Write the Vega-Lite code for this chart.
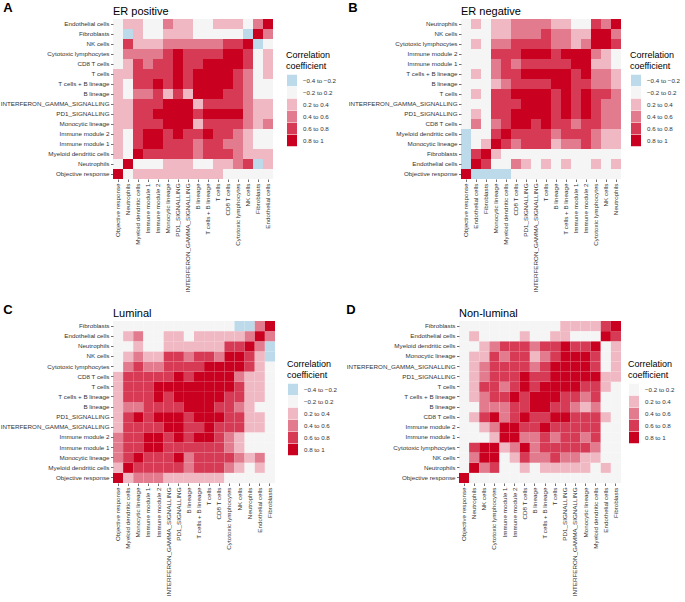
{
"$schema":"https://vega.github.io/schema/vega-lite/v6.json",
"background":"white",
"padding":{"left":0,"top":2,"right":0,"bottom":0},
"config":{
 "font":"Liberation Sans",
 "view":{"stroke":null},
 "axis":{"domain":false,"grid":false,"tickSize":2.5,"tickColor":"#333333","tickWidth":0.7,"labelFontSize":6.25,"labelColor":"#333333","labelPadding":1.5},
 "legend":{"symbolType":"M-0.87,-1H0.87V1H-0.87Z","symbolSize":132,"symbolStrokeWidth":0,"rowPadding":0,"labelFontSize":6.2,"labelColor":"#333333","labelOffset":5,"titleFontSize":9,"titleFontWeight":"normal","titleColor":"#000000","titleLineHeight":10.5,"titlePadding":4},
 "title":{"color":"#000000"}
},
"datasets":{
"names":[{"code":"OR","name":"Objective response"},{"code":"Neu","name":"Neutrophils"},{"code":"MDC","name":"Myeloid dendritic cells"},{"code":"IM1","name":"Immune module 1"},{"code":"IM2","name":"Immune module 2"},{"code":"Mono","name":"Monocytic lineage"},{"code":"PD1","name":"PD1_SIGNALLING"},{"code":"IFN","name":"INTERFERON_GAMMA_SIGNALLING"},{"code":"B","name":"B lineage"},{"code":"TB","name":"T cells + B lineage"},{"code":"T","name":"T cells"},{"code":"CD8","name":"CD8 T cells"},{"code":"CTL","name":"Cytotoxic lymphocytes"},{"code":"NK","name":"NK cells"},{"code":"Fib","name":"Fibroblasts"},{"code":"End","name":"Endothelial cells"}],
"A":[
{"x":"OR","y":"OR","r":0.9},{"x":"Neu","y":"OR","r":0},{"x":"MDC","y":"OR","r":0.3},{"x":"IM1","y":"OR","r":0.3},{"x":"IM2","y":"OR","r":0.3},{"x":"Mono","y":"OR","r":0.3},{"x":"PD1","y":"OR","r":0.3},{"x":"IFN","y":"OR","r":0.3},{"x":"B","y":"OR","r":0.3},{"x":"TB","y":"OR","r":0.3},{"x":"T","y":"OR","r":0.3},{"x":"CD8","y":"OR","r":0},{"x":"CTL","y":"OR","r":0},{"x":"NK","y":"OR","r":0},{"x":"Fib","y":"OR","r":0},{"x":"End","y":"OR","r":0},
{"x":"OR","y":"Neu","r":0},{"x":"Neu","y":"Neu","r":0.9},{"x":"MDC","y":"Neu","r":0},{"x":"IM1","y":"Neu","r":0},{"x":"IM2","y":"Neu","r":0},{"x":"Mono","y":"Neu","r":0.3},{"x":"PD1","y":"Neu","r":0.3},{"x":"IFN","y":"Neu","r":0.3},{"x":"B","y":"Neu","r":0},{"x":"TB","y":"Neu","r":0},{"x":"T","y":"Neu","r":0.3},{"x":"CD8","y":"Neu","r":0.3},{"x":"CTL","y":"Neu","r":0.5},{"x":"NK","y":"Neu","r":0.7},{"x":"Fib","y":"Neu","r":-0.3},{"x":"End","y":"Neu","r":0.3},
{"x":"OR","y":"MDC","r":0.3},{"x":"Neu","y":"MDC","r":0},{"x":"MDC","y":"MDC","r":0.9},{"x":"IM1","y":"MDC","r":0.7},{"x":"IM2","y":"MDC","r":0.7},{"x":"Mono","y":"MDC","r":0.7},{"x":"PD1","y":"MDC","r":0.7},{"x":"IFN","y":"MDC","r":0.7},{"x":"B","y":"MDC","r":0.5},{"x":"TB","y":"MDC","r":0.7},{"x":"T","y":"MDC","r":0.7},{"x":"CD8","y":"MDC","r":0.7},{"x":"CTL","y":"MDC","r":0.5},{"x":"NK","y":"MDC","r":0.3},{"x":"Fib","y":"MDC","r":0.3},{"x":"End","y":"MDC","r":0.3},
{"x":"OR","y":"IM1","r":0.3},{"x":"Neu","y":"IM1","r":0},{"x":"MDC","y":"IM1","r":0.7},{"x":"IM1","y":"IM1","r":0.9},{"x":"IM2","y":"IM1","r":0.9},{"x":"Mono","y":"IM1","r":0.7},{"x":"PD1","y":"IM1","r":0.7},{"x":"IFN","y":"IM1","r":0.7},{"x":"B","y":"IM1","r":0.5},{"x":"TB","y":"IM1","r":0.7},{"x":"T","y":"IM1","r":0.7},{"x":"CD8","y":"IM1","r":0.5},{"x":"CTL","y":"IM1","r":0.5},{"x":"NK","y":"IM1","r":0.3},{"x":"Fib","y":"IM1","r":0},{"x":"End","y":"IM1","r":0},
{"x":"OR","y":"IM2","r":0.3},{"x":"Neu","y":"IM2","r":0},{"x":"MDC","y":"IM2","r":0.7},{"x":"IM1","y":"IM2","r":0.9},{"x":"IM2","y":"IM2","r":0.9},{"x":"Mono","y":"IM2","r":0.7},{"x":"PD1","y":"IM2","r":0.9},{"x":"IFN","y":"IM2","r":0.7},{"x":"B","y":"IM2","r":0.7},{"x":"TB","y":"IM2","r":0.9},{"x":"T","y":"IM2","r":0.7},{"x":"CD8","y":"IM2","r":0.7},{"x":"CTL","y":"IM2","r":0.5},{"x":"NK","y":"IM2","r":0.3},{"x":"Fib","y":"IM2","r":0},{"x":"End","y":"IM2","r":0},
{"x":"OR","y":"Mono","r":0.3},{"x":"Neu","y":"Mono","r":0.3},{"x":"MDC","y":"Mono","r":0.7},{"x":"IM1","y":"Mono","r":0.7},{"x":"IM2","y":"Mono","r":0.7},{"x":"Mono","y":"Mono","r":0.9},{"x":"PD1","y":"Mono","r":0.9},{"x":"IFN","y":"Mono","r":0.9},{"x":"B","y":"Mono","r":0.3},{"x":"TB","y":"Mono","r":0.7},{"x":"T","y":"Mono","r":0.7},{"x":"CD8","y":"Mono","r":0.7},{"x":"CTL","y":"Mono","r":0.7},{"x":"NK","y":"Mono","r":0.5},{"x":"Fib","y":"Mono","r":0.3},{"x":"End","y":"Mono","r":0.5},
{"x":"OR","y":"PD1","r":0.3},{"x":"Neu","y":"PD1","r":0.3},{"x":"MDC","y":"PD1","r":0.7},{"x":"IM1","y":"PD1","r":0.7},{"x":"IM2","y":"PD1","r":0.9},{"x":"Mono","y":"PD1","r":0.9},{"x":"PD1","y":"PD1","r":0.9},{"x":"IFN","y":"PD1","r":0.9},{"x":"B","y":"PD1","r":0.7},{"x":"TB","y":"PD1","r":0.9},{"x":"T","y":"PD1","r":0.9},{"x":"CD8","y":"PD1","r":0.9},{"x":"CTL","y":"PD1","r":0.9},{"x":"NK","y":"PD1","r":0.5},{"x":"Fib","y":"PD1","r":0.3},{"x":"End","y":"PD1","r":0.3},
{"x":"OR","y":"IFN","r":0.3},{"x":"Neu","y":"IFN","r":0.3},{"x":"MDC","y":"IFN","r":0.7},{"x":"IM1","y":"IFN","r":0.7},{"x":"IM2","y":"IFN","r":0.7},{"x":"Mono","y":"IFN","r":0.9},{"x":"PD1","y":"IFN","r":0.9},{"x":"IFN","y":"IFN","r":0.9},{"x":"B","y":"IFN","r":0.3},{"x":"TB","y":"IFN","r":0.7},{"x":"T","y":"IFN","r":0.7},{"x":"CD8","y":"IFN","r":0.7},{"x":"CTL","y":"IFN","r":0.7},{"x":"NK","y":"IFN","r":0.5},{"x":"Fib","y":"IFN","r":0.3},{"x":"End","y":"IFN","r":0.3},
{"x":"OR","y":"B","r":0.3},{"x":"Neu","y":"B","r":0},{"x":"MDC","y":"B","r":0.5},{"x":"IM1","y":"B","r":0.5},{"x":"IM2","y":"B","r":0.7},{"x":"Mono","y":"B","r":0.3},{"x":"PD1","y":"B","r":0.7},{"x":"IFN","y":"B","r":0.3},{"x":"B","y":"B","r":0.9},{"x":"TB","y":"B","r":0.9},{"x":"T","y":"B","r":0.9},{"x":"CD8","y":"B","r":0.7},{"x":"CTL","y":"B","r":0.7},{"x":"NK","y":"B","r":0.5},{"x":"Fib","y":"B","r":0},{"x":"End","y":"B","r":0},
{"x":"OR","y":"TB","r":0.3},{"x":"Neu","y":"TB","r":0},{"x":"MDC","y":"TB","r":0.7},{"x":"IM1","y":"TB","r":0.7},{"x":"IM2","y":"TB","r":0.9},{"x":"Mono","y":"TB","r":0.7},{"x":"PD1","y":"TB","r":0.9},{"x":"IFN","y":"TB","r":0.7},{"x":"B","y":"TB","r":0.9},{"x":"TB","y":"TB","r":0.9},{"x":"T","y":"TB","r":0.9},{"x":"CD8","y":"TB","r":0.9},{"x":"CTL","y":"TB","r":0.7},{"x":"NK","y":"TB","r":0.5},{"x":"Fib","y":"TB","r":0},{"x":"End","y":"TB","r":0},
{"x":"OR","y":"T","r":0.3},{"x":"Neu","y":"T","r":0.3},{"x":"MDC","y":"T","r":0.7},{"x":"IM1","y":"T","r":0.7},{"x":"IM2","y":"T","r":0.7},{"x":"Mono","y":"T","r":0.7},{"x":"PD1","y":"T","r":0.9},{"x":"IFN","y":"T","r":0.7},{"x":"B","y":"T","r":0.9},{"x":"TB","y":"T","r":0.9},{"x":"T","y":"T","r":0.9},{"x":"CD8","y":"T","r":0.9},{"x":"CTL","y":"T","r":0.7},{"x":"NK","y":"T","r":0.5},{"x":"Fib","y":"T","r":0},{"x":"End","y":"T","r":0.3},
{"x":"OR","y":"CD8","r":0},{"x":"Neu","y":"CD8","r":0.3},{"x":"MDC","y":"CD8","r":0.7},{"x":"IM1","y":"CD8","r":0.5},{"x":"IM2","y":"CD8","r":0.7},{"x":"Mono","y":"CD8","r":0.7},{"x":"PD1","y":"CD8","r":0.9},{"x":"IFN","y":"CD8","r":0.7},{"x":"B","y":"CD8","r":0.7},{"x":"TB","y":"CD8","r":0.9},{"x":"T","y":"CD8","r":0.9},{"x":"CD8","y":"CD8","r":0.9},{"x":"CTL","y":"CD8","r":0.9},{"x":"NK","y":"CD8","r":0.7},{"x":"Fib","y":"CD8","r":0},{"x":"End","y":"CD8","r":0.3},
{"x":"OR","y":"CTL","r":0},{"x":"Neu","y":"CTL","r":0.5},{"x":"MDC","y":"CTL","r":0.5},{"x":"IM1","y":"CTL","r":0.5},{"x":"IM2","y":"CTL","r":0.5},{"x":"Mono","y":"CTL","r":0.7},{"x":"PD1","y":"CTL","r":0.9},{"x":"IFN","y":"CTL","r":0.7},{"x":"B","y":"CTL","r":0.7},{"x":"TB","y":"CTL","r":0.7},{"x":"T","y":"CTL","r":0.7},{"x":"CD8","y":"CTL","r":0.9},{"x":"CTL","y":"CTL","r":0.9},{"x":"NK","y":"CTL","r":0.7},{"x":"Fib","y":"CTL","r":0},{"x":"End","y":"CTL","r":0.3},
{"x":"OR","y":"NK","r":0},{"x":"Neu","y":"NK","r":0.7},{"x":"MDC","y":"NK","r":0.3},{"x":"IM1","y":"NK","r":0.3},{"x":"IM2","y":"NK","r":0.3},{"x":"Mono","y":"NK","r":0.5},{"x":"PD1","y":"NK","r":0.5},{"x":"IFN","y":"NK","r":0.5},{"x":"B","y":"NK","r":0.5},{"x":"TB","y":"NK","r":0.5},{"x":"T","y":"NK","r":0.5},{"x":"CD8","y":"NK","r":0.7},{"x":"CTL","y":"NK","r":0.7},{"x":"NK","y":"NK","r":0.9},{"x":"Fib","y":"NK","r":-0.3},{"x":"End","y":"NK","r":0},
{"x":"OR","y":"Fib","r":0},{"x":"Neu","y":"Fib","r":-0.3},{"x":"MDC","y":"Fib","r":0.3},{"x":"IM1","y":"Fib","r":0},{"x":"IM2","y":"Fib","r":0},{"x":"Mono","y":"Fib","r":0.3},{"x":"PD1","y":"Fib","r":0.3},{"x":"IFN","y":"Fib","r":0.3},{"x":"B","y":"Fib","r":0},{"x":"TB","y":"Fib","r":0},{"x":"T","y":"Fib","r":0},{"x":"CD8","y":"Fib","r":0},{"x":"CTL","y":"Fib","r":0},{"x":"NK","y":"Fib","r":-0.3},{"x":"Fib","y":"Fib","r":0.9},{"x":"End","y":"Fib","r":0.5},
{"x":"OR","y":"End","r":0},{"x":"Neu","y":"End","r":0.3},{"x":"MDC","y":"End","r":0.3},{"x":"IM1","y":"End","r":0},{"x":"IM2","y":"End","r":0},{"x":"Mono","y":"End","r":0.5},{"x":"PD1","y":"End","r":0.3},{"x":"IFN","y":"End","r":0.3},{"x":"B","y":"End","r":0},{"x":"TB","y":"End","r":0},{"x":"T","y":"End","r":0.3},{"x":"CD8","y":"End","r":0.3},{"x":"CTL","y":"End","r":0.3},{"x":"NK","y":"End","r":0},{"x":"Fib","y":"End","r":0.5},{"x":"End","y":"End","r":0.9}
],
"B":[
{"x":"OR","y":"OR","r":0.9},{"x":"End","y":"OR","r":-0.3},{"x":"Fib","y":"OR","r":-0.3},{"x":"Mono","y":"OR","r":-0.3},{"x":"MDC","y":"OR","r":-0.3},{"x":"CD8","y":"OR","r":0},{"x":"PD1","y":"OR","r":0},{"x":"IFN","y":"OR","r":0},{"x":"T","y":"OR","r":0},{"x":"B","y":"OR","r":0},{"x":"TB","y":"OR","r":0},{"x":"IM1","y":"OR","r":0},{"x":"IM2","y":"OR","r":0},{"x":"CTL","y":"OR","r":0},{"x":"NK","y":"OR","r":0},{"x":"Neu","y":"OR","r":0},
{"x":"OR","y":"End","r":-0.3},{"x":"End","y":"End","r":0.9},{"x":"Fib","y":"End","r":0.7},{"x":"Mono","y":"End","r":0},{"x":"MDC","y":"End","r":0},{"x":"CD8","y":"End","r":0.5},{"x":"PD1","y":"End","r":0.3},{"x":"IFN","y":"End","r":0},{"x":"T","y":"End","r":0.3},{"x":"B","y":"End","r":0},{"x":"TB","y":"End","r":0.3},{"x":"IM1","y":"End","r":0},{"x":"IM2","y":"End","r":0},{"x":"CTL","y":"End","r":0.3},{"x":"NK","y":"End","r":0},{"x":"Neu","y":"End","r":0.3},
{"x":"OR","y":"Fib","r":-0.3},{"x":"End","y":"Fib","r":0.7},{"x":"Fib","y":"Fib","r":0.9},{"x":"Mono","y":"Fib","r":0.3},{"x":"MDC","y":"Fib","r":0},{"x":"CD8","y":"Fib","r":0},{"x":"PD1","y":"Fib","r":0},{"x":"IFN","y":"Fib","r":0},{"x":"T","y":"Fib","r":0},{"x":"B","y":"Fib","r":0},{"x":"TB","y":"Fib","r":0},{"x":"IM1","y":"Fib","r":0},{"x":"IM2","y":"Fib","r":0},{"x":"CTL","y":"Fib","r":0},{"x":"NK","y":"Fib","r":0},{"x":"Neu","y":"Fib","r":0},
{"x":"OR","y":"Mono","r":-0.3},{"x":"End","y":"Mono","r":0},{"x":"Fib","y":"Mono","r":0.3},{"x":"Mono","y":"Mono","r":0.9},{"x":"MDC","y":"Mono","r":0.7},{"x":"CD8","y":"Mono","r":0.5},{"x":"PD1","y":"Mono","r":0.7},{"x":"IFN","y":"Mono","r":0.7},{"x":"T","y":"Mono","r":0.7},{"x":"B","y":"Mono","r":0.3},{"x":"TB","y":"Mono","r":0.5},{"x":"IM1","y":"Mono","r":0.5},{"x":"IM2","y":"Mono","r":0.7},{"x":"CTL","y":"Mono","r":0.5},{"x":"NK","y":"Mono","r":0.3},{"x":"Neu","y":"Mono","r":0.3},
{"x":"OR","y":"MDC","r":-0.3},{"x":"End","y":"MDC","r":0},{"x":"Fib","y":"MDC","r":0},{"x":"Mono","y":"MDC","r":0.7},{"x":"MDC","y":"MDC","r":0.9},{"x":"CD8","y":"MDC","r":0.7},{"x":"PD1","y":"MDC","r":0.7},{"x":"IFN","y":"MDC","r":0.7},{"x":"T","y":"MDC","r":0.7},{"x":"B","y":"MDC","r":0.5},{"x":"TB","y":"MDC","r":0.7},{"x":"IM1","y":"MDC","r":0.7},{"x":"IM2","y":"MDC","r":0.7},{"x":"CTL","y":"MDC","r":0.5},{"x":"NK","y":"MDC","r":0.3},{"x":"Neu","y":"MDC","r":0.3},
{"x":"OR","y":"CD8","r":0},{"x":"End","y":"CD8","r":0.5},{"x":"Fib","y":"CD8","r":0},{"x":"Mono","y":"CD8","r":0.5},{"x":"MDC","y":"CD8","r":0.7},{"x":"CD8","y":"CD8","r":0.9},{"x":"PD1","y":"CD8","r":0.9},{"x":"IFN","y":"CD8","r":0.7},{"x":"T","y":"CD8","r":0.9},{"x":"B","y":"CD8","r":0.7},{"x":"TB","y":"CD8","r":0.7},{"x":"IM1","y":"CD8","r":0.5},{"x":"IM2","y":"CD8","r":0.7},{"x":"CTL","y":"CD8","r":0.7},{"x":"NK","y":"CD8","r":0.5},{"x":"Neu","y":"CD8","r":0.5},
{"x":"OR","y":"PD1","r":0},{"x":"End","y":"PD1","r":0.3},{"x":"Fib","y":"PD1","r":0},{"x":"Mono","y":"PD1","r":0.7},{"x":"MDC","y":"PD1","r":0.7},{"x":"CD8","y":"PD1","r":0.9},{"x":"PD1","y":"PD1","r":0.9},{"x":"IFN","y":"PD1","r":0.9},{"x":"T","y":"PD1","r":0.9},{"x":"B","y":"PD1","r":0.7},{"x":"TB","y":"PD1","r":0.9},{"x":"IM1","y":"PD1","r":0.7},{"x":"IM2","y":"PD1","r":0.9},{"x":"CTL","y":"PD1","r":0.7},{"x":"NK","y":"PD1","r":0.5},{"x":"Neu","y":"PD1","r":0.5},
{"x":"OR","y":"IFN","r":0},{"x":"End","y":"IFN","r":0},{"x":"Fib","y":"IFN","r":0},{"x":"Mono","y":"IFN","r":0.7},{"x":"MDC","y":"IFN","r":0.7},{"x":"CD8","y":"IFN","r":0.7},{"x":"PD1","y":"IFN","r":0.9},{"x":"IFN","y":"IFN","r":0.9},{"x":"T","y":"IFN","r":0.9},{"x":"B","y":"IFN","r":0.7},{"x":"TB","y":"IFN","r":0.9},{"x":"IM1","y":"IFN","r":0.7},{"x":"IM2","y":"IFN","r":0.9},{"x":"CTL","y":"IFN","r":0.7},{"x":"NK","y":"IFN","r":0.5},{"x":"Neu","y":"IFN","r":0.5},
{"x":"OR","y":"T","r":0},{"x":"End","y":"T","r":0.3},{"x":"Fib","y":"T","r":0},{"x":"Mono","y":"T","r":0.7},{"x":"MDC","y":"T","r":0.7},{"x":"CD8","y":"T","r":0.9},{"x":"PD1","y":"T","r":0.9},{"x":"IFN","y":"T","r":0.9},{"x":"T","y":"T","r":0.9},{"x":"B","y":"T","r":0.7},{"x":"TB","y":"T","r":0.9},{"x":"IM1","y":"T","r":0.7},{"x":"IM2","y":"T","r":0.9},{"x":"CTL","y":"T","r":0.7},{"x":"NK","y":"T","r":0.7},{"x":"Neu","y":"T","r":0.5},
{"x":"OR","y":"B","r":0},{"x":"End","y":"B","r":0},{"x":"Fib","y":"B","r":0},{"x":"Mono","y":"B","r":0.3},{"x":"MDC","y":"B","r":0.5},{"x":"CD8","y":"B","r":0.7},{"x":"PD1","y":"B","r":0.7},{"x":"IFN","y":"B","r":0.7},{"x":"T","y":"B","r":0.7},{"x":"B","y":"B","r":0.9},{"x":"TB","y":"B","r":0.9},{"x":"IM1","y":"B","r":0.7},{"x":"IM2","y":"B","r":0.7},{"x":"CTL","y":"B","r":0.5},{"x":"NK","y":"B","r":0.5},{"x":"Neu","y":"B","r":0.3},
{"x":"OR","y":"TB","r":0},{"x":"End","y":"TB","r":0.3},{"x":"Fib","y":"TB","r":0},{"x":"Mono","y":"TB","r":0.5},{"x":"MDC","y":"TB","r":0.7},{"x":"CD8","y":"TB","r":0.7},{"x":"PD1","y":"TB","r":0.9},{"x":"IFN","y":"TB","r":0.9},{"x":"T","y":"TB","r":0.9},{"x":"B","y":"TB","r":0.9},{"x":"TB","y":"TB","r":0.9},{"x":"IM1","y":"TB","r":0.7},{"x":"IM2","y":"TB","r":0.9},{"x":"CTL","y":"TB","r":0.5},{"x":"NK","y":"TB","r":0.5},{"x":"Neu","y":"TB","r":0.3},
{"x":"OR","y":"IM1","r":0},{"x":"End","y":"IM1","r":0},{"x":"Fib","y":"IM1","r":0},{"x":"Mono","y":"IM1","r":0.5},{"x":"MDC","y":"IM1","r":0.7},{"x":"CD8","y":"IM1","r":0.5},{"x":"PD1","y":"IM1","r":0.7},{"x":"IFN","y":"IM1","r":0.7},{"x":"T","y":"IM1","r":0.7},{"x":"B","y":"IM1","r":0.7},{"x":"TB","y":"IM1","r":0.7},{"x":"IM1","y":"IM1","r":0.9},{"x":"IM2","y":"IM1","r":0.9},{"x":"CTL","y":"IM1","r":0.3},{"x":"NK","y":"IM1","r":0.3},{"x":"Neu","y":"IM1","r":0},
{"x":"OR","y":"IM2","r":0},{"x":"End","y":"IM2","r":0},{"x":"Fib","y":"IM2","r":0},{"x":"Mono","y":"IM2","r":0.7},{"x":"MDC","y":"IM2","r":0.7},{"x":"CD8","y":"IM2","r":0.7},{"x":"PD1","y":"IM2","r":0.9},{"x":"IFN","y":"IM2","r":0.9},{"x":"T","y":"IM2","r":0.9},{"x":"B","y":"IM2","r":0.7},{"x":"TB","y":"IM2","r":0.9},{"x":"IM1","y":"IM2","r":0.9},{"x":"IM2","y":"IM2","r":0.9},{"x":"CTL","y":"IM2","r":0.5},{"x":"NK","y":"IM2","r":0.3},{"x":"Neu","y":"IM2","r":0},
{"x":"OR","y":"CTL","r":0},{"x":"End","y":"CTL","r":0.3},{"x":"Fib","y":"CTL","r":0},{"x":"Mono","y":"CTL","r":0.5},{"x":"MDC","y":"CTL","r":0.5},{"x":"CD8","y":"CTL","r":0.7},{"x":"PD1","y":"CTL","r":0.7},{"x":"IFN","y":"CTL","r":0.7},{"x":"T","y":"CTL","r":0.7},{"x":"B","y":"CTL","r":0.5},{"x":"TB","y":"CTL","r":0.5},{"x":"IM1","y":"CTL","r":0.3},{"x":"IM2","y":"CTL","r":0.5},{"x":"CTL","y":"CTL","r":0.9},{"x":"NK","y":"CTL","r":0.9},{"x":"Neu","y":"CTL","r":0.7},
{"x":"OR","y":"NK","r":0},{"x":"End","y":"NK","r":0},{"x":"Fib","y":"NK","r":0},{"x":"Mono","y":"NK","r":0.3},{"x":"MDC","y":"NK","r":0.3},{"x":"CD8","y":"NK","r":0.5},{"x":"PD1","y":"NK","r":0.5},{"x":"IFN","y":"NK","r":0.5},{"x":"T","y":"NK","r":0.7},{"x":"B","y":"NK","r":0.5},{"x":"TB","y":"NK","r":0.5},{"x":"IM1","y":"NK","r":0.3},{"x":"IM2","y":"NK","r":0.3},{"x":"CTL","y":"NK","r":0.9},{"x":"NK","y":"NK","r":0.9},{"x":"Neu","y":"NK","r":0.5},
{"x":"OR","y":"Neu","r":0},{"x":"End","y":"Neu","r":0.3},{"x":"Fib","y":"Neu","r":0},{"x":"Mono","y":"Neu","r":0.3},{"x":"MDC","y":"Neu","r":0.3},{"x":"CD8","y":"Neu","r":0.5},{"x":"PD1","y":"Neu","r":0.5},{"x":"IFN","y":"Neu","r":0.5},{"x":"T","y":"Neu","r":0.5},{"x":"B","y":"Neu","r":0.3},{"x":"TB","y":"Neu","r":0.3},{"x":"IM1","y":"Neu","r":0},{"x":"IM2","y":"Neu","r":0},{"x":"CTL","y":"Neu","r":0.7},{"x":"NK","y":"Neu","r":0.5},{"x":"Neu","y":"Neu","r":0.9}
],
"C":[
{"x":"OR","y":"OR","r":0.9},{"x":"MDC","y":"OR","r":0.3},{"x":"Mono","y":"OR","r":0.5},{"x":"IM1","y":"OR","r":0.5},{"x":"IM2","y":"OR","r":0.5},{"x":"IFN","y":"OR","r":0.3},{"x":"PD1","y":"OR","r":0.3},{"x":"B","y":"OR","r":0.3},{"x":"TB","y":"OR","r":0.3},{"x":"T","y":"OR","r":0.3},{"x":"CD8","y":"OR","r":0.3},{"x":"CTL","y":"OR","r":0},{"x":"NK","y":"OR","r":0},{"x":"Neu","y":"OR","r":0},{"x":"End","y":"OR","r":0},{"x":"Fib","y":"OR","r":0},
{"x":"OR","y":"MDC","r":0.3},{"x":"MDC","y":"MDC","r":0.9},{"x":"Mono","y":"MDC","r":0.7},{"x":"IM1","y":"MDC","r":0.7},{"x":"IM2","y":"MDC","r":0.7},{"x":"IFN","y":"MDC","r":0.7},{"x":"PD1","y":"MDC","r":0.7},{"x":"B","y":"MDC","r":0.5},{"x":"TB","y":"MDC","r":0.7},{"x":"T","y":"MDC","r":0.7},{"x":"CD8","y":"MDC","r":0.7},{"x":"CTL","y":"MDC","r":0.5},{"x":"NK","y":"MDC","r":0.3},{"x":"Neu","y":"MDC","r":0},{"x":"End","y":"MDC","r":0.3},{"x":"Fib","y":"MDC","r":0},
{"x":"OR","y":"Mono","r":0.5},{"x":"MDC","y":"Mono","r":0.7},{"x":"Mono","y":"Mono","r":0.9},{"x":"IM1","y":"Mono","r":0.7},{"x":"IM2","y":"Mono","r":0.7},{"x":"IFN","y":"Mono","r":0.7},{"x":"PD1","y":"Mono","r":0.9},{"x":"B","y":"Mono","r":0.5},{"x":"TB","y":"Mono","r":0.7},{"x":"T","y":"Mono","r":0.7},{"x":"CD8","y":"Mono","r":0.7},{"x":"CTL","y":"Mono","r":0.7},{"x":"NK","y":"Mono","r":0.5},{"x":"Neu","y":"Mono","r":0.3},{"x":"End","y":"Mono","r":0.5},{"x":"Fib","y":"Mono","r":0},
{"x":"OR","y":"IM1","r":0.5},{"x":"MDC","y":"IM1","r":0.7},{"x":"Mono","y":"IM1","r":0.7},{"x":"IM1","y":"IM1","r":0.9},{"x":"IM2","y":"IM1","r":0.9},{"x":"IFN","y":"IM1","r":0.7},{"x":"PD1","y":"IM1","r":0.7},{"x":"B","y":"IM1","r":0.7},{"x":"TB","y":"IM1","r":0.7},{"x":"T","y":"IM1","r":0.7},{"x":"CD8","y":"IM1","r":0.7},{"x":"CTL","y":"IM1","r":0.5},{"x":"NK","y":"IM1","r":0.3},{"x":"Neu","y":"IM1","r":0},{"x":"End","y":"IM1","r":0},{"x":"Fib","y":"IM1","r":0},
{"x":"OR","y":"IM2","r":0.5},{"x":"MDC","y":"IM2","r":0.7},{"x":"Mono","y":"IM2","r":0.7},{"x":"IM1","y":"IM2","r":0.9},{"x":"IM2","y":"IM2","r":0.9},{"x":"IFN","y":"IM2","r":0.7},{"x":"PD1","y":"IM2","r":0.9},{"x":"B","y":"IM2","r":0.7},{"x":"TB","y":"IM2","r":0.9},{"x":"T","y":"IM2","r":0.9},{"x":"CD8","y":"IM2","r":0.7},{"x":"CTL","y":"IM2","r":0.5},{"x":"NK","y":"IM2","r":0.3},{"x":"Neu","y":"IM2","r":0},{"x":"End","y":"IM2","r":0},{"x":"Fib","y":"IM2","r":0},
{"x":"OR","y":"IFN","r":0.3},{"x":"MDC","y":"IFN","r":0.7},{"x":"Mono","y":"IFN","r":0.7},{"x":"IM1","y":"IFN","r":0.7},{"x":"IM2","y":"IFN","r":0.7},{"x":"IFN","y":"IFN","r":0.9},{"x":"PD1","y":"IFN","r":0.9},{"x":"B","y":"IFN","r":0.7},{"x":"TB","y":"IFN","r":0.7},{"x":"T","y":"IFN","r":0.9},{"x":"CD8","y":"IFN","r":0.7},{"x":"CTL","y":"IFN","r":0.7},{"x":"NK","y":"IFN","r":0.7},{"x":"Neu","y":"IFN","r":0.3},{"x":"End","y":"IFN","r":0.3},{"x":"Fib","y":"IFN","r":0},
{"x":"OR","y":"PD1","r":0.3},{"x":"MDC","y":"PD1","r":0.7},{"x":"Mono","y":"PD1","r":0.9},{"x":"IM1","y":"PD1","r":0.7},{"x":"IM2","y":"PD1","r":0.9},{"x":"IFN","y":"PD1","r":0.9},{"x":"PD1","y":"PD1","r":0.9},{"x":"B","y":"PD1","r":0.7},{"x":"TB","y":"PD1","r":0.9},{"x":"T","y":"PD1","r":0.9},{"x":"CD8","y":"PD1","r":0.9},{"x":"CTL","y":"PD1","r":0.7},{"x":"NK","y":"PD1","r":0.7},{"x":"Neu","y":"PD1","r":0.3},{"x":"End","y":"PD1","r":0.3},{"x":"Fib","y":"PD1","r":0},
{"x":"OR","y":"B","r":0.3},{"x":"MDC","y":"B","r":0.5},{"x":"Mono","y":"B","r":0.5},{"x":"IM1","y":"B","r":0.7},{"x":"IM2","y":"B","r":0.7},{"x":"IFN","y":"B","r":0.7},{"x":"PD1","y":"B","r":0.7},{"x":"B","y":"B","r":0.9},{"x":"TB","y":"B","r":0.9},{"x":"T","y":"B","r":0.9},{"x":"CD8","y":"B","r":0.7},{"x":"CTL","y":"B","r":0.7},{"x":"NK","y":"B","r":0.5},{"x":"Neu","y":"B","r":0.3},{"x":"End","y":"B","r":0},{"x":"Fib","y":"B","r":0},
{"x":"OR","y":"TB","r":0.3},{"x":"MDC","y":"TB","r":0.7},{"x":"Mono","y":"TB","r":0.7},{"x":"IM1","y":"TB","r":0.7},{"x":"IM2","y":"TB","r":0.9},{"x":"IFN","y":"TB","r":0.7},{"x":"PD1","y":"TB","r":0.9},{"x":"B","y":"TB","r":0.9},{"x":"TB","y":"TB","r":0.9},{"x":"T","y":"TB","r":0.9},{"x":"CD8","y":"TB","r":0.9},{"x":"CTL","y":"TB","r":0.7},{"x":"NK","y":"TB","r":0.7},{"x":"Neu","y":"TB","r":0.3},{"x":"End","y":"TB","r":0.3},{"x":"Fib","y":"TB","r":0},
{"x":"OR","y":"T","r":0.3},{"x":"MDC","y":"T","r":0.7},{"x":"Mono","y":"T","r":0.7},{"x":"IM1","y":"T","r":0.7},{"x":"IM2","y":"T","r":0.9},{"x":"IFN","y":"T","r":0.9},{"x":"PD1","y":"T","r":0.9},{"x":"B","y":"T","r":0.9},{"x":"TB","y":"T","r":0.9},{"x":"T","y":"T","r":0.9},{"x":"CD8","y":"T","r":0.9},{"x":"CTL","y":"T","r":0.9},{"x":"NK","y":"T","r":0.7},{"x":"Neu","y":"T","r":0.3},{"x":"End","y":"T","r":0.3},{"x":"Fib","y":"T","r":0},
{"x":"OR","y":"CD8","r":0.3},{"x":"MDC","y":"CD8","r":0.7},{"x":"Mono","y":"CD8","r":0.7},{"x":"IM1","y":"CD8","r":0.7},{"x":"IM2","y":"CD8","r":0.7},{"x":"IFN","y":"CD8","r":0.7},{"x":"PD1","y":"CD8","r":0.9},{"x":"B","y":"CD8","r":0.7},{"x":"TB","y":"CD8","r":0.9},{"x":"T","y":"CD8","r":0.9},{"x":"CD8","y":"CD8","r":0.9},{"x":"CTL","y":"CD8","r":0.9},{"x":"NK","y":"CD8","r":0.5},{"x":"Neu","y":"CD8","r":0.3},{"x":"End","y":"CD8","r":0.3},{"x":"Fib","y":"CD8","r":0},
{"x":"OR","y":"CTL","r":0},{"x":"MDC","y":"CTL","r":0.5},{"x":"Mono","y":"CTL","r":0.7},{"x":"IM1","y":"CTL","r":0.5},{"x":"IM2","y":"CTL","r":0.5},{"x":"IFN","y":"CTL","r":0.7},{"x":"PD1","y":"CTL","r":0.7},{"x":"B","y":"CTL","r":0.7},{"x":"TB","y":"CTL","r":0.7},{"x":"T","y":"CTL","r":0.9},{"x":"CD8","y":"CTL","r":0.9},{"x":"CTL","y":"CTL","r":0.9},{"x":"NK","y":"CTL","r":0.9},{"x":"Neu","y":"CTL","r":0.7},{"x":"End","y":"CTL","r":0.3},{"x":"Fib","y":"CTL","r":0},
{"x":"OR","y":"NK","r":0},{"x":"MDC","y":"NK","r":0.3},{"x":"Mono","y":"NK","r":0.5},{"x":"IM1","y":"NK","r":0.3},{"x":"IM2","y":"NK","r":0.3},{"x":"IFN","y":"NK","r":0.7},{"x":"PD1","y":"NK","r":0.7},{"x":"B","y":"NK","r":0.5},{"x":"TB","y":"NK","r":0.7},{"x":"T","y":"NK","r":0.7},{"x":"CD8","y":"NK","r":0.5},{"x":"CTL","y":"NK","r":0.9},{"x":"NK","y":"NK","r":0.9},{"x":"Neu","y":"NK","r":0.7},{"x":"End","y":"NK","r":0.3},{"x":"Fib","y":"NK","r":-0.3},
{"x":"OR","y":"Neu","r":0},{"x":"MDC","y":"Neu","r":0},{"x":"Mono","y":"Neu","r":0.3},{"x":"IM1","y":"Neu","r":0},{"x":"IM2","y":"Neu","r":0},{"x":"IFN","y":"Neu","r":0.3},{"x":"PD1","y":"Neu","r":0.3},{"x":"B","y":"Neu","r":0.3},{"x":"TB","y":"Neu","r":0.3},{"x":"T","y":"Neu","r":0.3},{"x":"CD8","y":"Neu","r":0.3},{"x":"CTL","y":"Neu","r":0.7},{"x":"NK","y":"Neu","r":0.7},{"x":"Neu","y":"Neu","r":0.9},{"x":"End","y":"Neu","r":0.5},{"x":"Fib","y":"Neu","r":-0.3},
{"x":"OR","y":"End","r":0},{"x":"MDC","y":"End","r":0.3},{"x":"Mono","y":"End","r":0.5},{"x":"IM1","y":"End","r":0},{"x":"IM2","y":"End","r":0},{"x":"IFN","y":"End","r":0.3},{"x":"PD1","y":"End","r":0.3},{"x":"B","y":"End","r":0},{"x":"TB","y":"End","r":0.3},{"x":"T","y":"End","r":0.3},{"x":"CD8","y":"End","r":0.3},{"x":"CTL","y":"End","r":0.3},{"x":"NK","y":"End","r":0.3},{"x":"Neu","y":"End","r":0.5},{"x":"End","y":"End","r":0.9},{"x":"Fib","y":"End","r":0.5},
{"x":"OR","y":"Fib","r":0},{"x":"MDC","y":"Fib","r":0},{"x":"Mono","y":"Fib","r":0},{"x":"IM1","y":"Fib","r":0},{"x":"IM2","y":"Fib","r":0},{"x":"IFN","y":"Fib","r":0},{"x":"PD1","y":"Fib","r":0},{"x":"B","y":"Fib","r":0},{"x":"TB","y":"Fib","r":0},{"x":"T","y":"Fib","r":0},{"x":"CD8","y":"Fib","r":0},{"x":"CTL","y":"Fib","r":0},{"x":"NK","y":"Fib","r":-0.3},{"x":"Neu","y":"Fib","r":-0.3},{"x":"End","y":"Fib","r":0.5},{"x":"Fib","y":"Fib","r":0.9}
],
"D":[
{"x":"OR","y":"OR","r":0.9},{"x":"Neu","y":"OR","r":0},{"x":"NK","y":"OR","r":0},{"x":"CTL","y":"OR","r":0},{"x":"IM1","y":"OR","r":0},{"x":"IM2","y":"OR","r":0},{"x":"CD8","y":"OR","r":0},{"x":"B","y":"OR","r":0},{"x":"TB","y":"OR","r":0},{"x":"T","y":"OR","r":0},{"x":"PD1","y":"OR","r":0},{"x":"IFN","y":"OR","r":0},{"x":"Mono","y":"OR","r":0},{"x":"MDC","y":"OR","r":0},{"x":"End","y":"OR","r":0},{"x":"Fib","y":"OR","r":0},
{"x":"OR","y":"Neu","r":0},{"x":"Neu","y":"Neu","r":0.9},{"x":"NK","y":"Neu","r":0.5},{"x":"CTL","y":"Neu","r":0.7},{"x":"IM1","y":"Neu","r":0},{"x":"IM2","y":"Neu","r":0},{"x":"CD8","y":"Neu","r":0.3},{"x":"B","y":"Neu","r":0},{"x":"TB","y":"Neu","r":0.3},{"x":"T","y":"Neu","r":0.3},{"x":"PD1","y":"Neu","r":0.3},{"x":"IFN","y":"Neu","r":0.3},{"x":"Mono","y":"Neu","r":0.3},{"x":"MDC","y":"Neu","r":0},{"x":"End","y":"Neu","r":0.3},{"x":"Fib","y":"Neu","r":0},
{"x":"OR","y":"NK","r":0},{"x":"Neu","y":"NK","r":0.5},{"x":"NK","y":"NK","r":0.9},{"x":"CTL","y":"NK","r":0.9},{"x":"IM1","y":"NK","r":0},{"x":"IM2","y":"NK","r":0.3},{"x":"CD8","y":"NK","r":0.7},{"x":"B","y":"NK","r":0.5},{"x":"TB","y":"NK","r":0.5},{"x":"T","y":"NK","r":0.7},{"x":"PD1","y":"NK","r":0.5},{"x":"IFN","y":"NK","r":0.5},{"x":"Mono","y":"NK","r":0.3},{"x":"MDC","y":"NK","r":0.3},{"x":"End","y":"NK","r":0},{"x":"Fib","y":"NK","r":0},
{"x":"OR","y":"CTL","r":0},{"x":"Neu","y":"CTL","r":0.7},{"x":"NK","y":"CTL","r":0.9},{"x":"CTL","y":"CTL","r":0.9},{"x":"IM1","y":"CTL","r":0.3},{"x":"IM2","y":"CTL","r":0.5},{"x":"CD8","y":"CTL","r":0.9},{"x":"B","y":"CTL","r":0.5},{"x":"TB","y":"CTL","r":0.7},{"x":"T","y":"CTL","r":0.7},{"x":"PD1","y":"CTL","r":0.7},{"x":"IFN","y":"CTL","r":0.7},{"x":"Mono","y":"CTL","r":0.7},{"x":"MDC","y":"CTL","r":0.5},{"x":"End","y":"CTL","r":0},{"x":"Fib","y":"CTL","r":0},
{"x":"OR","y":"IM1","r":0},{"x":"Neu","y":"IM1","r":0},{"x":"NK","y":"IM1","r":0},{"x":"CTL","y":"IM1","r":0.3},{"x":"IM1","y":"IM1","r":0.9},{"x":"IM2","y":"IM1","r":0.9},{"x":"CD8","y":"IM1","r":0.5},{"x":"B","y":"IM1","r":0.5},{"x":"TB","y":"IM1","r":0.7},{"x":"T","y":"IM1","r":0.5},{"x":"PD1","y":"IM1","r":0.7},{"x":"IFN","y":"IM1","r":0.7},{"x":"Mono","y":"IM1","r":0.5},{"x":"MDC","y":"IM1","r":0.7},{"x":"End","y":"IM1","r":0},{"x":"Fib","y":"IM1","r":0},
{"x":"OR","y":"IM2","r":0},{"x":"Neu","y":"IM2","r":0},{"x":"NK","y":"IM2","r":0.3},{"x":"CTL","y":"IM2","r":0.5},{"x":"IM1","y":"IM2","r":0.9},{"x":"IM2","y":"IM2","r":0.9},{"x":"CD8","y":"IM2","r":0.7},{"x":"B","y":"IM2","r":0.7},{"x":"TB","y":"IM2","r":0.9},{"x":"T","y":"IM2","r":0.7},{"x":"PD1","y":"IM2","r":0.7},{"x":"IFN","y":"IM2","r":0.7},{"x":"Mono","y":"IM2","r":0.7},{"x":"MDC","y":"IM2","r":0.7},{"x":"End","y":"IM2","r":0},{"x":"Fib","y":"IM2","r":0},
{"x":"OR","y":"CD8","r":0},{"x":"Neu","y":"CD8","r":0.3},{"x":"NK","y":"CD8","r":0.7},{"x":"CTL","y":"CD8","r":0.9},{"x":"IM1","y":"CD8","r":0.5},{"x":"IM2","y":"CD8","r":0.7},{"x":"CD8","y":"CD8","r":0.9},{"x":"B","y":"CD8","r":0.7},{"x":"TB","y":"CD8","r":0.7},{"x":"T","y":"CD8","r":0.9},{"x":"PD1","y":"CD8","r":0.9},{"x":"IFN","y":"CD8","r":0.7},{"x":"Mono","y":"CD8","r":0.7},{"x":"MDC","y":"CD8","r":0.7},{"x":"End","y":"CD8","r":0.3},{"x":"Fib","y":"CD8","r":0},
{"x":"OR","y":"B","r":0},{"x":"Neu","y":"B","r":0},{"x":"NK","y":"B","r":0.5},{"x":"CTL","y":"B","r":0.5},{"x":"IM1","y":"B","r":0.5},{"x":"IM2","y":"B","r":0.7},{"x":"CD8","y":"B","r":0.7},{"x":"B","y":"B","r":0.9},{"x":"TB","y":"B","r":0.9},{"x":"T","y":"B","r":0.7},{"x":"PD1","y":"B","r":0.7},{"x":"IFN","y":"B","r":0.5},{"x":"Mono","y":"B","r":0.3},{"x":"MDC","y":"B","r":0.5},{"x":"End","y":"B","r":0},{"x":"Fib","y":"B","r":0},
{"x":"OR","y":"TB","r":0},{"x":"Neu","y":"TB","r":0.3},{"x":"NK","y":"TB","r":0.5},{"x":"CTL","y":"TB","r":0.7},{"x":"IM1","y":"TB","r":0.7},{"x":"IM2","y":"TB","r":0.9},{"x":"CD8","y":"TB","r":0.7},{"x":"B","y":"TB","r":0.9},{"x":"TB","y":"TB","r":0.9},{"x":"T","y":"TB","r":0.9},{"x":"PD1","y":"TB","r":0.7},{"x":"IFN","y":"TB","r":0.7},{"x":"Mono","y":"TB","r":0.5},{"x":"MDC","y":"TB","r":0.7},{"x":"End","y":"TB","r":0},{"x":"Fib","y":"TB","r":0},
{"x":"OR","y":"T","r":0},{"x":"Neu","y":"T","r":0.3},{"x":"NK","y":"T","r":0.7},{"x":"CTL","y":"T","r":0.7},{"x":"IM1","y":"T","r":0.5},{"x":"IM2","y":"T","r":0.7},{"x":"CD8","y":"T","r":0.9},{"x":"B","y":"T","r":0.7},{"x":"TB","y":"T","r":0.9},{"x":"T","y":"T","r":0.9},{"x":"PD1","y":"T","r":0.9},{"x":"IFN","y":"T","r":0.9},{"x":"Mono","y":"T","r":0.7},{"x":"MDC","y":"T","r":0.7},{"x":"End","y":"T","r":0.3},{"x":"Fib","y":"T","r":0},
{"x":"OR","y":"PD1","r":0},{"x":"Neu","y":"PD1","r":0.3},{"x":"NK","y":"PD1","r":0.5},{"x":"CTL","y":"PD1","r":0.7},{"x":"IM1","y":"PD1","r":0.7},{"x":"IM2","y":"PD1","r":0.7},{"x":"CD8","y":"PD1","r":0.9},{"x":"B","y":"PD1","r":0.7},{"x":"TB","y":"PD1","r":0.7},{"x":"T","y":"PD1","r":0.9},{"x":"PD1","y":"PD1","r":0.9},{"x":"IFN","y":"PD1","r":0.9},{"x":"Mono","y":"PD1","r":0.9},{"x":"MDC","y":"PD1","r":0.9},{"x":"End","y":"PD1","r":0.3},{"x":"Fib","y":"PD1","r":0.3},
{"x":"OR","y":"IFN","r":0},{"x":"Neu","y":"IFN","r":0.3},{"x":"NK","y":"IFN","r":0.5},{"x":"CTL","y":"IFN","r":0.7},{"x":"IM1","y":"IFN","r":0.7},{"x":"IM2","y":"IFN","r":0.7},{"x":"CD8","y":"IFN","r":0.7},{"x":"B","y":"IFN","r":0.5},{"x":"TB","y":"IFN","r":0.7},{"x":"T","y":"IFN","r":0.9},{"x":"PD1","y":"IFN","r":0.9},{"x":"IFN","y":"IFN","r":0.9},{"x":"Mono","y":"IFN","r":0.9},{"x":"MDC","y":"IFN","r":0.7},{"x":"End","y":"IFN","r":0},{"x":"Fib","y":"IFN","r":0.3},
{"x":"OR","y":"Mono","r":0},{"x":"Neu","y":"Mono","r":0.3},{"x":"NK","y":"Mono","r":0.3},{"x":"CTL","y":"Mono","r":0.7},{"x":"IM1","y":"Mono","r":0.5},{"x":"IM2","y":"Mono","r":0.7},{"x":"CD8","y":"Mono","r":0.7},{"x":"B","y":"Mono","r":0.3},{"x":"TB","y":"Mono","r":0.5},{"x":"T","y":"Mono","r":0.7},{"x":"PD1","y":"Mono","r":0.9},{"x":"IFN","y":"Mono","r":0.9},{"x":"Mono","y":"Mono","r":0.9},{"x":"MDC","y":"Mono","r":0.7},{"x":"End","y":"Mono","r":0},{"x":"Fib","y":"Mono","r":0.3},
{"x":"OR","y":"MDC","r":0},{"x":"Neu","y":"MDC","r":0},{"x":"NK","y":"MDC","r":0.3},{"x":"CTL","y":"MDC","r":0.5},{"x":"IM1","y":"MDC","r":0.7},{"x":"IM2","y":"MDC","r":0.7},{"x":"CD8","y":"MDC","r":0.7},{"x":"B","y":"MDC","r":0.5},{"x":"TB","y":"MDC","r":0.7},{"x":"T","y":"MDC","r":0.7},{"x":"PD1","y":"MDC","r":0.9},{"x":"IFN","y":"MDC","r":0.7},{"x":"Mono","y":"MDC","r":0.7},{"x":"MDC","y":"MDC","r":0.9},{"x":"End","y":"MDC","r":0},{"x":"Fib","y":"MDC","r":0.3},
{"x":"OR","y":"End","r":0},{"x":"Neu","y":"End","r":0.3},{"x":"NK","y":"End","r":0},{"x":"CTL","y":"End","r":0},{"x":"IM1","y":"End","r":0},{"x":"IM2","y":"End","r":0},{"x":"CD8","y":"End","r":0.3},{"x":"B","y":"End","r":0},{"x":"TB","y":"End","r":0},{"x":"T","y":"End","r":0.3},{"x":"PD1","y":"End","r":0.3},{"x":"IFN","y":"End","r":0},{"x":"Mono","y":"End","r":0},{"x":"MDC","y":"End","r":0},{"x":"End","y":"End","r":0.9},{"x":"Fib","y":"End","r":0.7},
{"x":"OR","y":"Fib","r":0},{"x":"Neu","y":"Fib","r":0},{"x":"NK","y":"Fib","r":0},{"x":"CTL","y":"Fib","r":0},{"x":"IM1","y":"Fib","r":0},{"x":"IM2","y":"Fib","r":0},{"x":"CD8","y":"Fib","r":0},{"x":"B","y":"Fib","r":0},{"x":"TB","y":"Fib","r":0},{"x":"T","y":"Fib","r":0},{"x":"PD1","y":"Fib","r":0.3},{"x":"IFN","y":"Fib","r":0.3},{"x":"Mono","y":"Fib","r":0.3},{"x":"MDC","y":"Fib","r":0.3},{"x":"End","y":"Fib","r":0.7},{"x":"Fib","y":"Fib","r":0.9}
]
},
"spacing":12,
"resolve":{"scale":{"color":"independent"},"legend":{"color":"independent"}},
"vconcat":[
{"hconcat":[
 {"title":{"text":"A","anchor":"start","fontSize":13,"fontWeight":"bold","offset":-9,"dx":3},
  "resolve":{"scale":{"color":"independent"},"legend":{"color":"independent"}},
  "vconcat":[{
   "title":{"text":"ER positive","anchor":"start","frame":"group","fontSize":11,"fontWeight":"normal","offset":2},
   "width":160,"height":160,
   "data":{"name":"A"},
   "transform":[{"lookup":"x","from":{"data":{"name":"names"},"key":"code","fields":["name"]},"as":["xname"]},{"lookup":"y","from":{"data":{"name":"names"},"key":"code","fields":["name"]},"as":["yname"]}],
   "mark":{"type":"rect"},
   "encoding":{
    "x":{"field":"xname","type":"nominal","title":null,"sort":["Objective response","Neutrophils","Myeloid dendritic cells","Immune module 1","Immune module 2","Monocytic lineage","PD1_SIGNALLING","INTERFERON_GAMMA_SIGNALLING","B lineage","T cells + B lineage","T cells","CD8 T cells","Cytotoxic lymphocytes","NK cells","Fibroblasts","Endothelial cells"],"scale":{"paddingInner":0,"paddingOuter":0},"axis":{"labelAngle":-90}},
    "y":{"field":"yname","type":"nominal","title":null,"sort":["Objective response","Neutrophils","Myeloid dendritic cells","Immune module 1","Immune module 2","Monocytic lineage","PD1_SIGNALLING","INTERFERON_GAMMA_SIGNALLING","B lineage","T cells + B lineage","T cells","CD8 T cells","Cytotoxic lymphocytes","NK cells","Fibroblasts","Endothelial cells"],"scale":{"reverse":true,"paddingInner":0,"paddingOuter":0}},
    "color":{"field":"r","type":"ordinal","scale":{"domain":[-0.3,0,0.3,0.5,0.7,0.9],"range":["#bcdaea","#f5f5f5","#f0b8c3","#e37b8e","#d63a55","#ca0020"]},
     "legend":{"orient":"none","legendX":173,"legendY":32,"title":["Correlation","coefficient"],"labelExpr":"datum.value == -0.3 ? '−0.4 to −0.2' : datum.value == 0 ? '−0.2 to 0.2' : datum.value == 0.3 ? '0.2 to 0.4' : datum.value == 0.5 ? '0.4 to 0.6' : datum.value == 0.7 ? '0.6 to 0.8' : '0.8 to 1'"}}
   }
  }]},
 {"title":{"text":"B","anchor":"start","fontSize":13,"fontWeight":"bold","offset":-9},
  "resolve":{"scale":{"color":"independent"},"legend":{"color":"independent"}},
  "vconcat":[{
   "title":{"text":"ER negative","anchor":"start","frame":"group","fontSize":11,"fontWeight":"normal","offset":2},
   "width":160,"height":160,
   "data":{"name":"B"},
   "transform":[{"lookup":"x","from":{"data":{"name":"names"},"key":"code","fields":["name"]},"as":["xname"]},{"lookup":"y","from":{"data":{"name":"names"},"key":"code","fields":["name"]},"as":["yname"]}],
   "mark":{"type":"rect"},
   "encoding":{
    "x":{"field":"xname","type":"nominal","title":null,"sort":["Objective response","Endothelial cells","Fibroblasts","Monocytic lineage","Myeloid dendritic cells","CD8 T cells","PD1_SIGNALLING","INTERFERON_GAMMA_SIGNALLING","T cells","B lineage","T cells + B lineage","Immune module 1","Immune module 2","Cytotoxic lymphocytes","NK cells","Neutrophils"],"scale":{"paddingInner":0,"paddingOuter":0},"axis":{"labelAngle":-90}},
    "y":{"field":"yname","type":"nominal","title":null,"sort":["Objective response","Endothelial cells","Fibroblasts","Monocytic lineage","Myeloid dendritic cells","CD8 T cells","PD1_SIGNALLING","INTERFERON_GAMMA_SIGNALLING","T cells","B lineage","T cells + B lineage","Immune module 1","Immune module 2","Cytotoxic lymphocytes","NK cells","Neutrophils"],"scale":{"reverse":true,"paddingInner":0,"paddingOuter":0}},
    "color":{"field":"r","type":"ordinal","scale":{"domain":[-0.3,0,0.3,0.5,0.7,0.9],"range":["#bcdaea","#f5f5f5","#f0b8c3","#e37b8e","#d63a55","#ca0020"]},
     "legend":{"orient":"none","legendX":169,"legendY":32,"title":["Correlation","coefficient"],"labelExpr":"datum.value == -0.3 ? '−0.4 to −0.2' : datum.value == 0 ? '−0.2 to 0.2' : datum.value == 0.3 ? '0.2 to 0.4' : datum.value == 0.5 ? '0.4 to 0.6' : datum.value == 0.7 ? '0.6 to 0.8' : '0.8 to 1'"}}
   }
  }]}
],"spacing":11,"resolve":{"scale":{"color":"independent"},"legend":{"color":"independent"}}},
{"hconcat":[
 {"title":{"text":"C","anchor":"start","fontSize":13,"fontWeight":"bold","offset":-9,"dx":3},
  "resolve":{"scale":{"color":"independent"},"legend":{"color":"independent"}},
  "vconcat":[{
   "title":{"text":"Luminal","anchor":"start","frame":"group","fontSize":11,"fontWeight":"normal","offset":2},
   "width":162,"height":162,
   "data":{"name":"C"},
   "transform":[{"lookup":"x","from":{"data":{"name":"names"},"key":"code","fields":["name"]},"as":["xname"]},{"lookup":"y","from":{"data":{"name":"names"},"key":"code","fields":["name"]},"as":["yname"]}],
   "mark":{"type":"rect"},
   "encoding":{
    "x":{"field":"xname","type":"nominal","title":null,"sort":["Objective response","Myeloid dendritic cells","Monocytic lineage","Immune module 1","Immune module 2","INTERFERON_GAMMA_SIGNALLING","PD1_SIGNALLING","B lineage","T cells + B lineage","T cells","CD8 T cells","Cytotoxic lymphocytes","NK cells","Neutrophils","Endothelial cells","Fibroblasts"],"scale":{"paddingInner":0,"paddingOuter":0},"axis":{"labelAngle":-90}},
    "y":{"field":"yname","type":"nominal","title":null,"sort":["Objective response","Myeloid dendritic cells","Monocytic lineage","Immune module 1","Immune module 2","INTERFERON_GAMMA_SIGNALLING","PD1_SIGNALLING","B lineage","T cells + B lineage","T cells","CD8 T cells","Cytotoxic lymphocytes","NK cells","Neutrophils","Endothelial cells","Fibroblasts"],"scale":{"reverse":true,"paddingInner":0,"paddingOuter":0}},
    "color":{"field":"r","type":"ordinal","scale":{"domain":[-0.3,0,0.3,0.5,0.7,0.9],"range":["#bcdaea","#f5f5f5","#f0b8c3","#e37b8e","#d63a55","#ca0020"]},
     "legend":{"orient":"none","legendX":174,"legendY":39,"title":["Correlation","coefficient"],"labelExpr":"datum.value == -0.3 ? '−0.4 to −0.2' : datum.value == 0 ? '−0.2 to 0.2' : datum.value == 0.3 ? '0.2 to 0.4' : datum.value == 0.5 ? '0.4 to 0.6' : datum.value == 0.7 ? '0.6 to 0.8' : '0.8 to 1'"}}
   }
  }]},
 {"title":{"text":"D","anchor":"start","fontSize":13,"fontWeight":"bold","offset":-9},
  "resolve":{"scale":{"color":"independent"},"legend":{"color":"independent"}},
  "vconcat":[{
   "title":{"text":"Non-luminal","anchor":"start","frame":"group","fontSize":11,"fontWeight":"normal","offset":2},
   "width":162,"height":162,
   "data":{"name":"D"},
   "transform":[{"lookup":"x","from":{"data":{"name":"names"},"key":"code","fields":["name"]},"as":["xname"]},{"lookup":"y","from":{"data":{"name":"names"},"key":"code","fields":["name"]},"as":["yname"]}],
   "mark":{"type":"rect"},
   "encoding":{
    "x":{"field":"xname","type":"nominal","title":null,"sort":["Objective response","Neutrophils","NK cells","Cytotoxic lymphocytes","Immune module 1","Immune module 2","CD8 T cells","B lineage","T cells + B lineage","T cells","PD1_SIGNALLING","INTERFERON_GAMMA_SIGNALLING","Monocytic lineage","Myeloid dendritic cells","Endothelial cells","Fibroblasts"],"scale":{"paddingInner":0,"paddingOuter":0},"axis":{"labelAngle":-90}},
    "y":{"field":"yname","type":"nominal","title":null,"sort":["Objective response","Neutrophils","NK cells","Cytotoxic lymphocytes","Immune module 1","Immune module 2","CD8 T cells","B lineage","T cells + B lineage","T cells","PD1_SIGNALLING","INTERFERON_GAMMA_SIGNALLING","Monocytic lineage","Myeloid dendritic cells","Endothelial cells","Fibroblasts"],"scale":{"reverse":true,"paddingInner":0,"paddingOuter":0}},
    "color":{"field":"r","type":"ordinal","scale":{"domain":[0,0.3,0.5,0.7,0.9],"range":["#f5f5f5","#f0b8c3","#e37b8e","#d63a55","#ca0020"]},
     "legend":{"orient":"none","legendX":169,"legendY":39,"title":["Correlation","coefficient"],"labelExpr":"datum.value == -0.3 ? '−0.4 to −0.2' : datum.value == 0 ? '−0.2 to 0.2' : datum.value == 0.3 ? '0.2 to 0.4' : datum.value == 0.5 ? '0.4 to 0.6' : datum.value == 0.7 ? '0.6 to 0.8' : '0.8 to 1'"}}
   }
  }]}
],"spacing":8,"resolve":{"scale":{"color":"independent"},"legend":{"color":"independent"}}}
]
}
